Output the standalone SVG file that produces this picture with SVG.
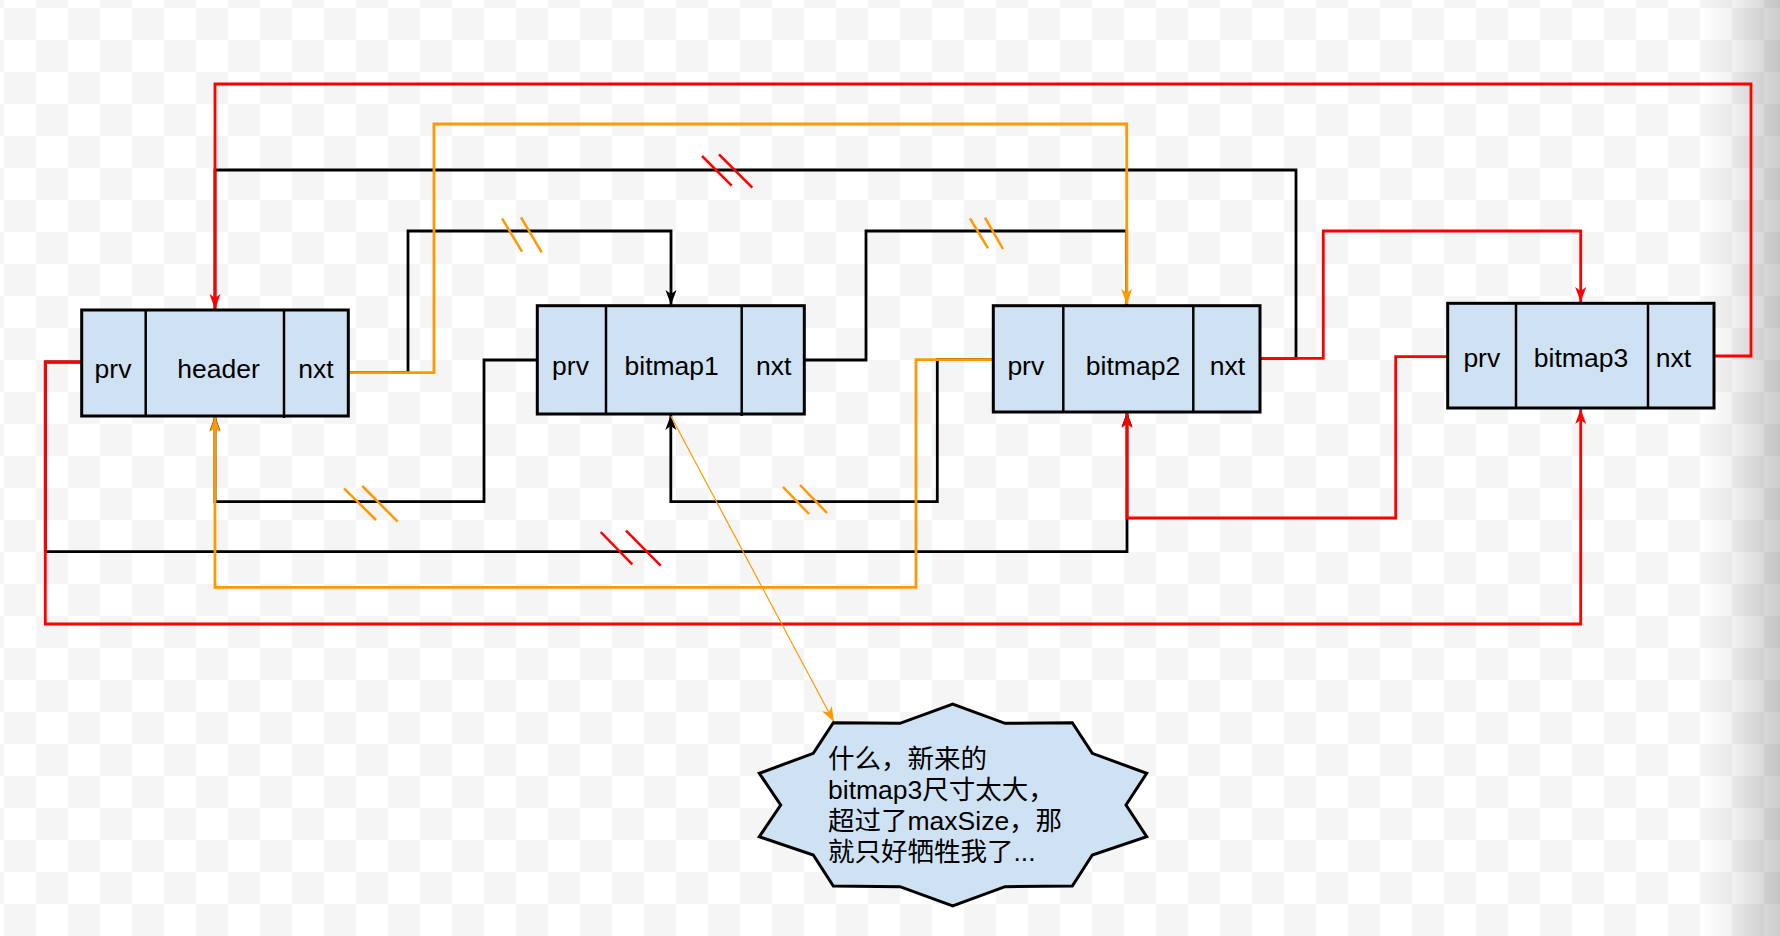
<svg xmlns="http://www.w3.org/2000/svg" width="1780" height="936" viewBox="0 0 1780 936">
<style>
.box{fill:#cfe2f3;stroke:#000;stroke-width:3}
.div{stroke:#000;stroke-width:2.5}
.t{font-family:"Liberation Sans","Noto Sans CJK SC",sans-serif;font-size:26.5px;fill:#000;text-anchor:middle}
.n{font-family:"Liberation Sans","Noto Sans CJK SC",sans-serif;font-size:26.5px;fill:#000}
.c{fill:none;stroke-width:2.8;stroke-linejoin:miter}
.k{stroke:#000}
.r{stroke:#ff0000}
.o{stroke:#ff9900}
.s{stroke-width:2.5;fill:none}
</style>
<defs>
<pattern id="chk" x="4" y="8" width="64" height="64" patternUnits="userSpaceOnUse">
<rect width="64" height="64" fill="#ffffff"/>
<rect width="32" height="32" fill="#f5f5f5"/>
<rect x="32" y="32" width="32" height="32" fill="#f5f5f5"/>
</pattern>
<linearGradient id="edge" x1="0" y1="0" x2="1" y2="0">
<stop offset="0" stop-color="#000" stop-opacity="0"/>
<stop offset="0.4" stop-color="#000" stop-opacity="0.05"/>
<stop offset="1" stop-color="#000" stop-opacity="0.2"/>
</linearGradient>
<marker id="ak" markerWidth="16" markerHeight="12" refX="15" refY="6" orient="auto" markerUnits="userSpaceOnUse"><path d="M15,6 L0,0.5 L4,6 L0,11.5 Z" fill="#000"/></marker>
<marker id="ar" markerWidth="16" markerHeight="12" refX="15" refY="6" orient="auto" markerUnits="userSpaceOnUse"><path d="M15,6 L0,0.5 L4,6 L0,11.5 Z" fill="#ff0000"/></marker>
<marker id="ao" markerWidth="16" markerHeight="12" refX="15" refY="6" orient="auto" markerUnits="userSpaceOnUse"><path d="M15,6 L0,0.5 L4,6 L0,11.5 Z" fill="#ff9900"/></marker>
</defs>
<rect width="1780" height="936" fill="url(#chk)"/>
<rect x="1700" y="0" width="80" height="936" fill="url(#edge)"/>

<g id="connectors">
<path class="c k" d="M1260,358.3 H1296 V170 H215 V310"/>
<path class="c k" d="M348,372.7 H408 V231 H671 V305" marker-end="url(#ak)"/>
<path class="c k" d="M804,360 H866 V231 H1126.7 V305"/>
<path class="c k" d="M537,360 H484 V501.7 H215 V416" marker-end="url(#ak)"/>
<path class="c k" d="M993,359.7 H937.3 V501.7 H670.8 V415" marker-end="url(#ak)"/>
<path class="c k" d="M81.7,362 H45.3 V551.7 H1127 V412" marker-end="url(#ak)"/>
<path class="c r" d="M1714,356 H1751 V84 H215 V309" marker-end="url(#ar)"/>
<path class="c o" d="M348,372.7 H434 V124 H1126.7 V304" marker-end="url(#ao)"/>
<path class="c o" d="M993,359.7 H916 V587.3 H215 V417" marker-end="url(#ao)"/>
<path class="c r" d="M1260,358.3 H1323.3 V231 H1580.7 V302" marker-end="url(#ar)"/>
<path class="c r" d="M81.7,362 H45.3 V624 H1580.7 V409" marker-end="url(#ar)"/>
<path class="c r" d="M1447.7,356.7 H1395.7 V518 H1127 V413" marker-end="url(#ar)"/>
<path fill="none" stroke="#ff9900" stroke-width="1.2" d="M670.8,416 L834,722" marker-end="url(#ao)"/>
<g class="s r">
<path d="M702,156 L731.7,185.7 M719,154.3 L752.3,187.7"/>
<path d="M600.7,532 L632.3,564.3 M626,530.7 L660.7,565.7"/>
</g>
<g class="s o">
<path d="M502,218.3 L522,251.7 M521,217.3 L541.7,252.3"/>
<path d="M970,218.3 L988,248.3 M985,217.7 L1003,249"/>
<path d="M344,488.3 L376,520 M362.3,486 L397.7,521.7"/>
<path d="M783,487 L809,514 M800,485 L827,513"/>
</g>
</g>

<g id="header">
<rect class="box" x="81.7" y="310" width="266.6" height="106"/>
<line class="div" x1="145.7" y1="310" x2="145.7" y2="416"/>
<line class="div" x1="284" y1="310" x2="284" y2="418"/>
<text class="t" x="113" y="378">prv</text>
<text class="t" x="218.5" y="378">header</text>
<text class="t" x="316" y="378">nxt</text>
</g>

<g id="bitmap1">
<rect class="box" x="537.3" y="305.7" width="267" height="108.3"/>
<line class="div" x1="606" y1="305.7" x2="606" y2="414"/>
<line class="div" x1="741.7" y1="305.7" x2="741.7" y2="416"/>
<text class="t" x="570.5" y="375">prv</text>
<text class="t" x="671.7" y="375">bitmap1</text>
<text class="t" x="773.7" y="375">nxt</text>
</g>

<g id="bitmap2">
<rect class="box" x="993.3" y="305.7" width="266.7" height="106.3"/>
<line class="div" x1="1063.3" y1="305.7" x2="1063.3" y2="412"/>
<line class="div" x1="1193.3" y1="305.7" x2="1193.3" y2="412"/>
<text class="t" x="1025.8" y="374.5">prv</text>
<text class="t" x="1133" y="374.5">bitmap2</text>
<text class="t" x="1227.5" y="374.5">nxt</text>
</g>

<g id="bitmap3">
<rect class="box" x="1447.7" y="303.3" width="266.3" height="104.7"/>
<line class="div" x1="1516" y1="303.3" x2="1516" y2="408"/>
<line class="div" x1="1648" y1="303.3" x2="1648" y2="408"/>
<text class="t" x="1481.8" y="366.7">prv</text>
<text class="t" x="1581" y="366.7">bitmap3</text>
<text class="t" x="1673.5" y="366.7">nxt</text>
</g>

<g id="callout">
<path d="M833.3,722.7 L900,723.3 L952.7,704 L1005,723.3 L1072.3,722.7 L1092.3,753.3 L1146.7,773.3 L1126,805 L1146.7,836.7 L1092.3,855 L1072.3,886 L1005,886.7 L952.7,906 L900,886.7 L833.3,886 L813.3,855 L759.3,836.7 L780.7,805 L759.3,773.3 L813.3,753.3 Z" fill="#cfe2f3" stroke="#000" stroke-width="3" stroke-linejoin="miter"/>
<text class="n" x="828" y="768">什么，新来的</text>
<text class="n" x="828" y="799">bitmap3尺寸太大，</text>
<text class="n" x="828" y="830">超过了maxSize，那</text>
<text class="n" x="828" y="861">就只好牺牲我了...</text>
</g>
</svg>
